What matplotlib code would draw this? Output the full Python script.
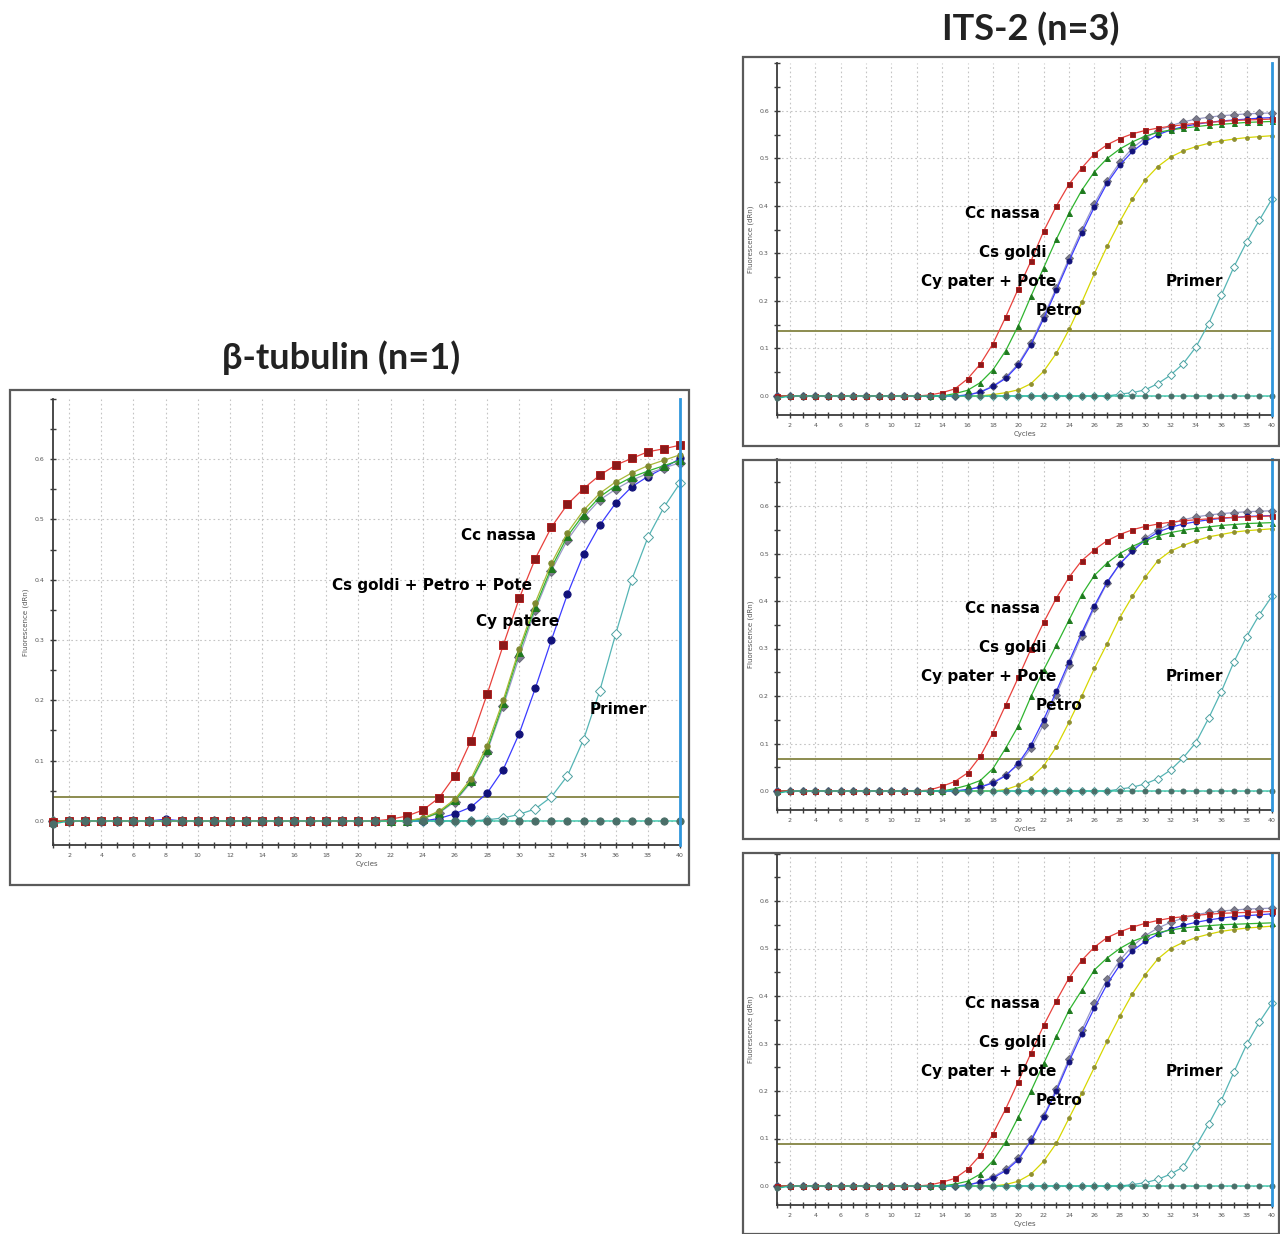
import numpy as np
import matplotlib.pyplot as plt
from matplotlib.patches import Rectangle
from matplotlib.ticker import MultipleLocator

# cycles 1..40
cycles = np.arange(1, 41)

# ---- beta-tubulin (n=1) ----
bt_cc_nassa = [-0.002] + [0.0]*20 + [0.003, 0.008, 0.018, 0.038, 0.075, 0.133, 0.21, 0.291, 0.369, 0.435,
                                      0.487, 0.525, 0.551, 0.573, 0.59, 0.601, 0.612, 0.617, 0.623]
bt_cs_goldi = [0.0]*23 + [0.004, 0.014, 0.034, 0.066, 0.118, 0.195, 0.28, 0.355, 0.42, 0.472,
                          0.508, 0.537, 0.556, 0.57, 0.58, 0.589, 0.598]
bt_petro = [0.0]*23 + [0.005, 0.016, 0.036, 0.07, 0.125, 0.2, 0.285, 0.362, 0.427, 0.478,
                       0.515, 0.543, 0.562, 0.577, 0.589, 0.598, 0.607]
bt_pote = [0.0]*23 + [0.004, 0.013, 0.032, 0.064, 0.115, 0.19, 0.272, 0.35, 0.415, 0.466,
                      0.503, 0.532, 0.55, 0.565, 0.576, 0.585, 0.594]
bt_cy_patere = [0.0]*7 + [0.003] + [0.0]*16 + [0.004, 0.012, 0.023, 0.046, 0.085, 0.145, 0.22, 0.30,
                                                0.376, 0.442, 0.49, 0.527, 0.554, 0.571, 0.585, 0.601]
bt_primer = [0.0]*27 + [0.002, 0.005, 0.011, 0.02, 0.04, 0.075, 0.135, 0.215, 0.31, 0.40, 0.47, 0.52, 0.56]
bt_ntc = [-0.005] + [0.0]*39
bt_threshold = 0.04

# ---- ITS-2 (n=3), replicate 1 ----
r1_cc_nassa = [0.0]*12 + [0.002, 0.007, 0.015, 0.036, 0.067, 0.11, 0.166, 0.226, 0.284, 0.347, 0.40, 0.446,
                          0.48, 0.51, 0.529, 0.542, 0.552, 0.559, 0.564, 0.568, 0.571, 0.574, 0.576, 0.578,
                          0.58, 0.581, 0.582, 0.583]
r1_cs_goldi = [0.0]*14 + [0.005, 0.012, 0.028, 0.055, 0.095, 0.148, 0.21, 0.27, 0.33, 0.385, 0.433, 0.472,
                          0.50, 0.52, 0.535, 0.547, 0.555, 0.56, 0.564, 0.567, 0.57, 0.572, 0.574, 0.576,
                          0.577, 0.578]
r1_cy_pater = [0.0]*15 + [0.002, 0.008, 0.02, 0.037, 0.065, 0.108, 0.163, 0.223, 0.284, 0.343, 0.398, 0.448,
                          0.486, 0.515, 0.535, 0.55, 0.56, 0.567, 0.572, 0.576, 0.579, 0.581, 0.583, 0.585,
                          0.586]
r1_pote = [0.0]*15 + [0.002, 0.009, 0.021, 0.039, 0.068, 0.112, 0.168, 0.228, 0.29, 0.35, 0.405, 0.453,
                      0.492, 0.522, 0.543, 0.558, 0.569, 0.577, 0.583, 0.587, 0.59, 0.592, 0.594, 0.595,
                      0.596]
r1_petro = [0.0]*17 + [0.003, 0.007, 0.013, 0.026, 0.052, 0.09, 0.14, 0.197, 0.258, 0.315, 0.367, 0.415,
                       0.455, 0.483, 0.503, 0.516, 0.525, 0.532, 0.537, 0.541, 0.544, 0.546, 0.548]
r1_primer = [0.0]*27 + [0.004, 0.007, 0.013, 0.026, 0.044, 0.068, 0.103, 0.152, 0.212, 0.272, 0.324, 0.37, 0.415]
r1_ntc = [-0.005] + [0.0]*39
r1_threshold = 0.137

# ---- ITS-2 (n=3), replicate 2 ----
r2_cc_nassa = [0.0]*12 + [0.002, 0.01, 0.02, 0.038, 0.073, 0.123, 0.181, 0.239, 0.299, 0.355, 0.406, 0.45,
                          0.485, 0.508, 0.527, 0.54, 0.55, 0.557, 0.562, 0.566, 0.569, 0.571, 0.573, 0.575,
                          0.576, 0.577, 0.578, 0.579]
r2_cs_goldi = [0.0]*14 + [0.005, 0.012, 0.022, 0.047, 0.09, 0.137, 0.199, 0.255, 0.307, 0.36, 0.413, 0.454,
                          0.48, 0.50, 0.515, 0.527, 0.537, 0.544, 0.549, 0.553, 0.556, 0.559, 0.561, 0.563,
                          0.564, 0.565]
r2_cy_pater = [0.0]*15 + [0.003, 0.008, 0.017, 0.032, 0.058, 0.097, 0.15, 0.21, 0.272, 0.333, 0.39, 0.44,
                          0.478, 0.505, 0.528, 0.545, 0.555, 0.562, 0.567, 0.571, 0.574, 0.576, 0.578, 0.579,
                          0.58]
r2_pote = [0.0]*15 + [0.003, 0.009, 0.018, 0.034, 0.055, 0.09, 0.14, 0.203, 0.265, 0.327, 0.386, 0.438,
                      0.478, 0.508, 0.532, 0.55, 0.562, 0.571, 0.577, 0.581, 0.584, 0.586, 0.588, 0.589,
                      0.59]
r2_petro = [0.0]*18 + [0.003, 0.012, 0.028, 0.053, 0.093, 0.145, 0.20, 0.258, 0.31, 0.365, 0.41, 0.45,
                       0.485, 0.505, 0.517, 0.527, 0.535, 0.54, 0.545, 0.548, 0.55, 0.552]
r2_primer = [0.0]*27 + [0.004, 0.008, 0.015, 0.026, 0.044, 0.07, 0.102, 0.153, 0.209, 0.272, 0.325, 0.371, 0.41]
r2_ntc = [-0.005] + [0.0]*39
r2_threshold = 0.067

# ---- ITS-2 (n=3), replicate 3 ----
r3_cc_nassa = [0.0]*12 + [0.002, 0.008, 0.016, 0.035, 0.065, 0.11, 0.162, 0.22, 0.28, 0.338, 0.39, 0.438,
                          0.475, 0.503, 0.523, 0.535, 0.545, 0.553, 0.559, 0.564, 0.567, 0.57, 0.572, 0.574,
                          0.575, 0.576, 0.577, 0.578]
r3_cs_goldi = [0.0]*14 + [0.004, 0.01, 0.025, 0.053, 0.093, 0.145, 0.2, 0.258, 0.315, 0.37, 0.412, 0.455,
                          0.48, 0.50, 0.515, 0.525, 0.533, 0.539, 0.543, 0.546, 0.548, 0.55, 0.551, 0.552,
                          0.553, 0.554]
r3_cy_pater = [0.0]*15 + [0.002, 0.008, 0.017, 0.032, 0.055, 0.095, 0.145, 0.20, 0.262, 0.32, 0.375, 0.425,
                          0.465, 0.495, 0.515, 0.53, 0.541, 0.549, 0.555, 0.56, 0.564, 0.567, 0.569, 0.571,
                          0.573]
r3_pote = [0.0]*15 + [0.002, 0.009, 0.019, 0.035, 0.058, 0.098, 0.148, 0.205, 0.268, 0.328, 0.385, 0.435,
                      0.475, 0.505, 0.527, 0.543, 0.555, 0.564, 0.571, 0.576, 0.579, 0.581, 0.583, 0.584,
                      0.585]
r3_petro = [0.0]*18 + [0.003, 0.01, 0.025, 0.052, 0.09, 0.143, 0.195, 0.25, 0.305, 0.357, 0.405, 0.445,
                       0.478, 0.5, 0.513, 0.523, 0.53, 0.536, 0.54, 0.543, 0.545, 0.547]
r3_primer = [0.0]*28 + [0.003, 0.007, 0.014, 0.025, 0.04, 0.084, 0.13, 0.18, 0.24, 0.298, 0.345, 0.385]
r3_ntc = [-0.005] + [0.0]*39
r3_threshold = 0.088

W, H = 1280, 1234
fig = plt.figure(figsize=(W/100, H/100), dpi=100)
fig.patch.set_facecolor('white')

# series styles: (line colour, marker, marker face, marker edge)
sty = {
    'cc':     ('#e8413c', 's', '#8b1a1a', '#b02020'),
    'goldi':  ('#2fb52f', '^', '#1f7a1f', '#1f7a1f'),
    'pater':  ('#3b3bff', 'o', '#12127a', '#12127a'),
    'pote':   ('#9a9ac8', 'D', '#7c7c8c', '#6a6a7a'),
    'petro':  ('#d6d600', 'o', '#8f8f30', '#8f8f30'),
    'olive':  ('#a8b838', 'o', '#7f8a30', '#7f8a30'),
    'primer': ('#55b5b5', 'D', 'white', '#4ca0a0'),
    'ntc':    ('#1fc0a0', 'o', '#4a6e68', '#4a6e68'),
}


def px_axes(x0, ytop, x1, ybot):
    return fig.add_axes([x0/W, 1 - ybot/H, (x1 - x0)/W, (ybot - ytop)/H])


def box(x0, y0, x1, y1):
    fig.patches.append(Rectangle((x0/W, 1 - y1/H), (x1 - x0)/W, (y1 - y0)/H, transform=fig.transFigure,
                                 fill=False, edgecolor='#5a5a5a', linewidth=1.6, zorder=0))


def panel(ax, series, thr, ms, labels):
    ax.set_xlim(1, 40)
    ax.set_ylim(-0.04, 0.70)
    ax.xaxis.set_major_locator(MultipleLocator(2))
    ax.xaxis.set_minor_locator(MultipleLocator(1))
    ax.set_yticks(np.arange(0, 0.61, 0.1))
    ax.yaxis.set_minor_locator(MultipleLocator(0.05))
    ax.set_yticklabels(['0.0', '0.1', '0.2', '0.3', '0.4', '0.5', '0.6'])
    for s in ['top', 'right']:
        ax.spines[s].set_visible(False)
    for s in ['left', 'bottom']:
        ax.spines[s].set_color('#3c3c3c')
        ax.spines[s].set_linewidth(1.3)
    ax.tick_params(which='both', direction='inout', color='#3c3c3c', labelsize=4.5, labelcolor='#555555')
    ax.tick_params(which='major', length=5, width=1)
    ax.tick_params(which='minor', length=4, width=1)
    ax.grid(True, which='major', color='#c4c4c4', linestyle=(0, (1.5, 2.5)), linewidth=0.8)
    ax.set_xlabel('Cycles', fontsize=5, color='#555555', labelpad=2)
    ax.set_ylabel('Fluorescence (dRn)', fontsize=5, color='#555555', labelpad=4)
    ax.axhline(thr, color='#8c8c50', linewidth=1.4, zorder=2)
    ax.axvline(40, color='#2f96dc', linewidth=2.0, zorder=6, clip_on=False)
    for key, vals in series:
        lc, mk, mf, me = sty[key]
        msz = ms * (0.75 if key in ('petro', 'olive') else 1.0)
        ax.plot(cycles, vals, color=lc, linewidth=0.9, marker=mk, markersize=msz,
                markerfacecolor=mf, markeredgecolor=me, markeredgewidth=0.7, clip_on=False, zorder=3)
    for txt, x, y in labels:
        ax.text(x, y, txt, fontsize=11, fontweight='bold', color='black', ha='left', va='center', zorder=8)


# left panel
box(10, 390, 689, 885)
axL = px_axes(53, 398.7, 680, 845.1)
panel(axL,
      [('primer', bt_primer), ('pater', bt_cy_patere), ('pote', bt_pote), ('goldi', bt_cs_goldi),
       ('olive', bt_petro), ('cc', bt_cc_nassa), ('ntc', bt_ntc)],
      bt_threshold, 5.2,
      [('Cc nassa', 26.4, 0.474), ('Cs goldi + Petro + Pote', 18.35, 0.391),
       ('Cy patere', 27.3, 0.33), ('Primer', 34.4, 0.184)])
fig.text(341/W, 1 - 358/H, 'β-tubulin (n=1)', fontsize=26, fontweight='bold',
         family=['Lato', 'DejaVu Sans'], ha='center', va='center', color='#222222')

# right panels
fig.text(1031/W, 1 - 29/H, 'ITS-2 (n=3)', fontsize=26, fontweight='bold',
         family=['Lato', 'DejaVu Sans'], ha='center', va='center', color='#222222')
its_labels = [('Cc nassa', 15.8, 0.385), ('Cs goldi', 16.9, 0.303), ('Cy pater + Pote', 12.3, 0.242),
              ('Petro', 21.4, 0.181), ('Primer', 31.6, 0.242)]
reps = [
    (57, 446, 396, [r1_primer, r1_petro, r1_pote, r1_cy_pater, r1_cs_goldi, r1_cc_nassa, r1_ntc], r1_threshold),
    (460, 839, 791, [r2_primer, r2_petro, r2_pote, r2_cy_pater, r2_cs_goldi, r2_cc_nassa, r2_ntc], r2_threshold),
    (853, 1234, 1186, [r3_primer, r3_petro, r3_pote, r3_cy_pater, r3_cs_goldi, r3_cc_nassa, r3_ntc], r3_threshold),
]
keys = ['primer', 'petro', 'pote', 'pater', 'goldi', 'cc', 'ntc']
for top, bot, zero, vals, thr in reps:
    box(743, top, 1279, bot)
    ax = px_axes(777.3, zero - 0.70*475, 1272, zero + 0.04*475)
    panel(ax, list(zip(keys, vals)), thr, 3.6, its_labels)

fig.savefig('out.png', dpi=100, facecolor='white')
